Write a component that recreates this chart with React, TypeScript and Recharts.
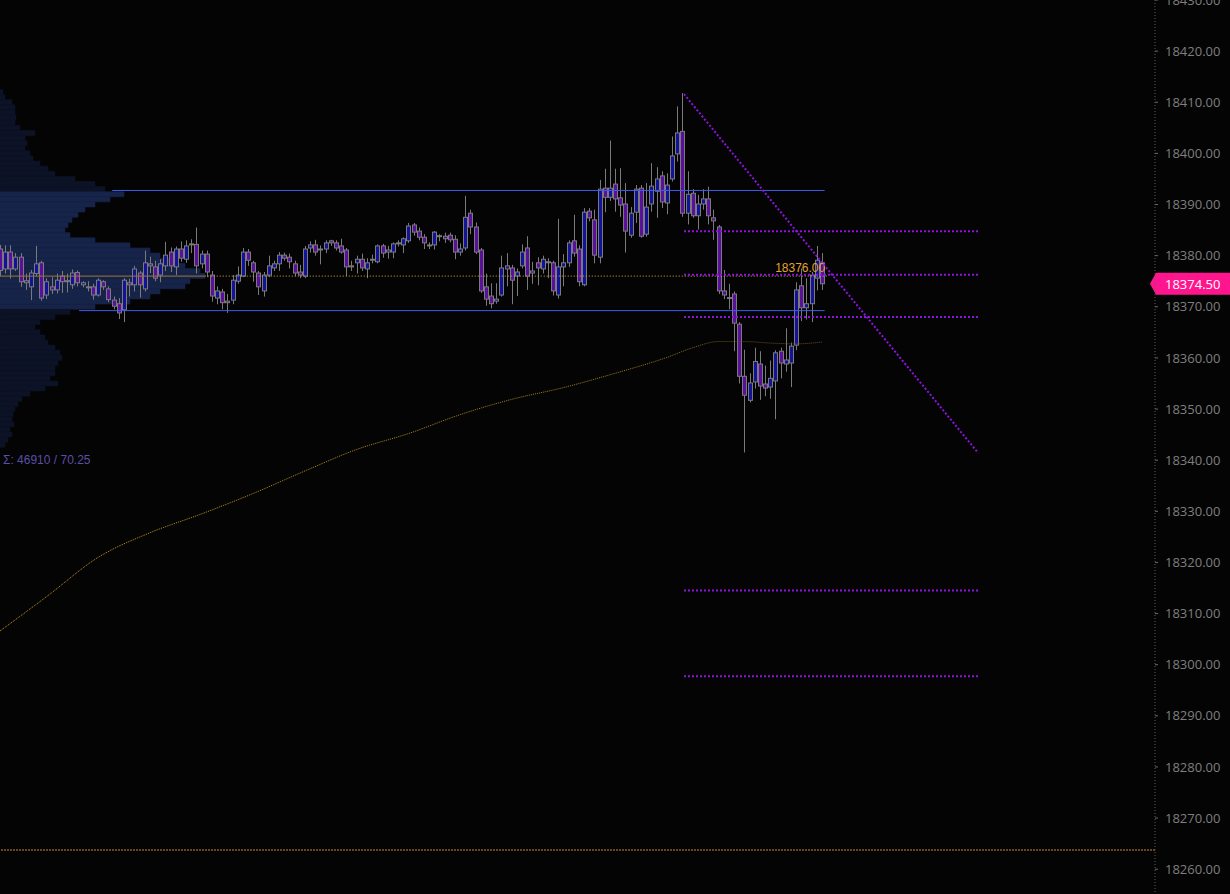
import React from "react";
import {
  ComposedChart,
  BarChart,
  Bar,
  Line,
  XAxis,
  YAxis,
  ReferenceLine,
  Cell,
} from "recharts";

// ---- data ----

// [open, high, low, close] per candle, oldest first
const ohlc: [number, number, number, number][] = [
  [18381.3, 18382.1, 18376.0, 18377.1],
  [18377.4, 18382.0, 18376.5, 18380.7],
  [18380.7, 18382.0, 18375.5, 18377.4],
  [18377.4, 18380.5, 18377.0, 18379.7],
  [18379.7, 18380.5, 18373.9, 18374.9],
  [18375.1, 18376.5, 18373.3, 18374.7],
  [18373.9, 18377.2, 18371.3, 18376.6],
  [18376.5, 18381.9, 18376.0, 18378.4],
  [18378.6, 18379.0, 18371.2, 18371.7],
  [18372.3, 18375.6, 18371.5, 18374.9],
  [18373.9, 18375.8, 18372.5, 18373.3],
  [18373.3, 18376.5, 18372.6, 18375.2],
  [18376.0, 18377.0, 18372.7, 18374.9],
  [18375.1, 18376.5, 18372.8, 18375.0],
  [18374.3, 18377.3, 18373.5, 18376.6],
  [18376.7, 18377.1, 18374.0, 18374.7],
  [18374.3, 18375.0, 18373.8, 18374.7],
  [18373.9, 18375.0, 18373.0, 18373.8],
  [18373.9, 18374.5, 18371.4, 18372.3],
  [18372.3, 18375.6, 18372.0, 18375.2],
  [18374.9, 18375.2, 18373.3, 18373.9],
  [18373.5, 18374.0, 18370.9, 18371.4],
  [18371.3, 18372.0, 18369.5, 18370.1],
  [18370.6, 18371.7, 18367.6, 18368.8],
  [18369.4, 18375.6, 18367.0, 18375.2],
  [18374.7, 18375.5, 18372.0, 18374.3],
  [18374.3, 18378.0, 18373.0, 18377.4],
  [18376.6, 18377.0, 18371.8, 18374.3],
  [18373.5, 18381.0, 18373.0, 18378.6],
  [18378.4, 18379.8, 18376.6, 18378.0],
  [18377.8, 18379.0, 18375.0, 18375.6],
  [18376.2, 18379.3, 18374.8, 18378.4],
  [18378.0, 18382.7, 18377.0, 18380.1],
  [18380.7, 18381.6, 18376.8, 18378.0],
  [18377.8, 18381.8, 18376.2, 18381.3],
  [18381.3, 18382.8, 18378.8, 18379.5],
  [18379.3, 18383.0, 18378.6, 18381.9],
  [18382.3, 18383.2, 18380.5, 18382.2],
  [18382.2, 18385.5, 18376.5, 18378.0],
  [18378.4, 18381.0, 18377.5, 18380.3],
  [18380.3, 18381.0, 18375.8, 18376.8],
  [18376.2, 18377.0, 18371.0, 18372.1],
  [18371.7, 18374.0, 18370.5, 18373.1],
  [18372.9, 18373.5, 18369.5, 18370.8],
  [18370.8, 18372.5, 18368.8, 18371.1],
  [18371.3, 18376.2, 18370.5, 18375.2],
  [18375.0, 18377.9, 18374.5, 18376.2],
  [18376.0, 18381.5, 18375.8, 18380.7],
  [18380.7, 18381.3, 18378.0, 18379.1],
  [18378.6, 18379.0, 18374.9, 18376.8],
  [18376.6, 18377.0, 18372.3, 18373.9],
  [18373.1, 18376.8, 18372.0, 18376.2],
  [18376.2, 18380.0, 18375.8, 18378.0],
  [18377.6, 18379.0, 18377.0, 18378.4],
  [18378.4, 18380.7, 18377.0, 18380.1],
  [18380.1, 18380.6, 18379.0, 18379.5],
  [18379.7, 18380.4, 18377.5, 18378.8],
  [18378.4, 18379.0, 18376.0, 18376.6],
  [18376.8, 18378.2, 18375.6, 18376.2],
  [18376.0, 18381.9, 18375.6, 18381.3],
  [18381.5, 18382.8, 18380.6, 18382.1],
  [18382.1, 18383.1, 18380.0, 18380.7],
  [18381.3, 18382.0, 18378.3, 18381.2],
  [18381.3, 18383.0, 18380.5, 18382.5],
  [18382.9, 18383.1, 18381.9, 18382.5],
  [18382.5, 18383.0, 18381.0, 18381.5],
  [18381.9, 18383.3, 18380.4, 18380.7],
  [18381.1, 18381.5, 18376.0, 18377.8],
  [18378.0, 18379.0, 18377.0, 18377.8],
  [18378.6, 18380.0, 18376.5, 18379.3],
  [18379.3, 18380.4, 18377.0, 18377.6],
  [18377.4, 18379.5, 18375.6, 18378.6],
  [18379.3, 18380.2, 18378.5, 18379.2],
  [18378.8, 18382.2, 18378.5, 18381.9],
  [18381.9, 18382.3, 18379.6, 18380.5],
  [18380.7, 18381.9, 18379.4, 18381.1],
  [18380.7, 18382.6, 18379.5, 18382.3],
  [18382.5, 18383.0, 18381.8, 18382.4],
  [18382.1, 18383.6, 18380.5, 18383.3],
  [18382.9, 18386.4, 18382.5, 18385.8],
  [18386.0, 18386.4, 18383.9, 18384.6],
  [18384.8, 18385.5, 18383.0, 18383.6],
  [18383.6, 18384.2, 18381.3, 18382.5],
  [18382.1, 18382.6, 18381.3, 18381.9],
  [18382.1, 18384.8, 18381.2, 18384.6],
  [18383.9, 18384.2, 18382.8, 18383.8],
  [18383.8, 18384.5, 18382.5, 18383.3],
  [18384.0, 18384.5, 18382.6, 18383.1],
  [18383.2, 18384.0, 18379.3, 18380.7],
  [18380.7, 18382.4, 18380.0, 18381.3],
  [18381.5, 18391.7, 18381.0, 18387.5],
  [18388.3, 18389.0, 18384.2, 18385.6],
  [18385.6, 18386.5, 18380.3, 18380.7],
  [18381.1, 18381.5, 18372.7, 18373.1],
  [18373.9, 18376.5, 18370.2, 18371.5],
  [18372.1, 18374.6, 18369.7, 18370.6],
  [18371.1, 18374.6, 18370.6, 18371.5],
  [18372.3, 18380.0, 18372.0, 18377.6],
  [18377.4, 18380.5, 18374.0, 18378.0],
  [18377.6, 18378.2, 18370.5, 18375.2],
  [18376.0, 18377.5, 18372.1, 18376.8],
  [18378.0, 18382.2, 18377.5, 18380.7],
  [18381.5, 18383.8, 18373.3, 18376.0],
  [18376.6, 18378.8, 18374.5, 18377.0],
  [18378.6, 18379.7, 18374.2, 18377.6],
  [18377.4, 18380.0, 18376.5, 18379.3],
  [18378.8, 18379.5, 18375.6, 18378.7],
  [18378.6, 18379.0, 18372.2, 18373.1],
  [18372.3, 18387.2, 18371.6, 18377.8],
  [18377.8, 18380.3, 18374.0, 18378.6],
  [18378.6, 18383.0, 18377.8, 18382.5],
  [18382.9, 18388.0, 18379.8, 18380.5],
  [18381.3, 18382.0, 18374.0, 18374.9],
  [18374.3, 18389.3, 18374.0, 18388.5],
  [18388.7, 18389.3, 18386.7, 18387.4],
  [18387.0, 18389.0, 18378.5, 18380.1],
  [18379.7, 18394.8, 18378.5, 18393.0],
  [18393.2, 18397.0, 18388.5, 18391.4],
  [18391.4, 18402.5, 18390.7, 18393.2],
  [18394.0, 18397.0, 18388.6, 18391.1],
  [18391.3, 18397.1, 18387.6, 18389.9],
  [18390.1, 18394.2, 18380.6, 18384.8],
  [18384.0, 18389.5, 18383.5, 18388.3],
  [18388.5, 18393.8, 18386.4, 18393.0],
  [18393.2, 18393.8, 18383.5, 18383.8],
  [18384.2, 18394.2, 18383.7, 18389.5],
  [18390.1, 18398.1, 18388.6, 18393.6],
  [18392.6, 18397.3, 18387.4, 18395.0],
  [18395.6, 18396.5, 18389.3, 18390.5],
  [18390.3, 18396.1, 18388.1, 18393.8],
  [18395.0, 18403.3, 18394.5, 18399.5],
  [18399.9, 18409.2, 18398.4, 18404.0],
  [18404.3, 18411.8, 18387.6, 18388.3],
  [18388.3, 18396.5, 18386.1, 18392.0],
  [18392.2, 18393.0, 18387.4, 18387.8],
  [18387.8, 18391.9, 18385.1, 18390.1],
  [18390.1, 18393.0, 18389.0, 18391.1],
  [18391.1, 18393.5, 18386.1, 18387.8],
  [18387.4, 18389.0, 18383.1, 18386.8],
  [18385.6, 18386.0, 18372.5, 18373.1],
  [18373.1, 18377.2, 18371.5, 18372.3],
  [18371.8, 18374.5, 18369.5, 18371.7],
  [18372.5, 18373.0, 18361.3, 18366.8],
  [18366.6, 18367.0, 18355.0, 18356.4],
  [18356.4, 18361.6, 18341.5, 18352.7],
  [18351.7, 18357.0, 18351.3, 18355.1],
  [18355.3, 18362.0, 18354.0, 18359.3],
  [18358.8, 18361.3, 18351.8, 18354.5],
  [18354.9, 18358.5, 18352.5, 18354.1],
  [18354.3, 18359.5, 18352.0, 18356.0],
  [18355.5, 18361.5, 18348.0, 18361.0],
  [18361.3, 18362.0, 18356.0, 18359.0],
  [18358.8, 18365.8, 18357.3, 18359.6],
  [18359.0, 18363.0, 18354.3, 18362.3],
  [18362.5, 18374.8, 18361.5, 18373.3],
  [18374.1, 18377.5, 18367.2, 18369.8],
  [18369.8, 18375.6, 18367.5, 18370.6],
  [18370.6, 18376.8, 18367.0, 18376.2],
  [18375.6, 18381.9, 18373.2, 18379.1],
  [18378.6, 18380.5, 18373.3, 18374.5],
];

// long moving average, sampled at some candles: [candle index, value]
const maPoints: [number, number][] = [
  [1, 18306.6], [10, 18313.3], [20, 18321.0], [30, 18325.8], [40, 18329.5],
  [50, 18333.5], [60, 18337.9], [70, 18342.1], [80, 18345.2], [90, 18348.9],
  [100, 18351.9], [110, 18354.2], [120, 18357.0], [130, 18360.1], [135, 18362.0],
  [140, 18363.2], [145, 18363.2], [150, 18362.9], [155, 18362.75], [160, 18363.1],
];

// volume profile rows: [price, volume]
const profileRows: [number, number][] = [
  [18412, 3], [18411, 5], [18410, 12], [18409, 15], [18408, 15], [18407, 16],
  [18406, 15], [18405, 20], [18404, 35], [18403, 25], [18402, 27], [18401, 25],
  [18400, 30], [18399, 33], [18398, 40], [18397, 48], [18396, 55], [18395, 75],
  [18394, 95], [18393, 105], [18392, 124], [18391, 110], [18390, 95], [18389, 85],
  [18388, 78], [18387, 72], [18386, 68], [18385, 65], [18384, 70], [18383, 95],
  [18382, 130], [18381, 150], [18380, 160], [18379, 170], [18378, 185], [18377, 200],
  [18376, 205], [18375, 190], [18374, 185], [18373, 160], [18372, 150], [18371, 130],
  [18370, 95], [18369, 70], [18368, 55], [18367, 40], [18366, 35], [18365, 40],
  [18364, 45], [18363, 48], [18362, 55], [18361, 60], [18360, 62], [18359, 58],
  [18358, 55], [18357, 55], [18356, 50], [18355, 58], [18354, 45], [18353, 30],
  [18352, 22], [18351, 18], [18350, 15], [18349, 13], [18348, 12], [18347, 14],
  [18346, 10], [18345, 12], [18344, 8], [18343, 5],
];

const priceTicks = [
  18260, 18270, 18280, 18290, 18300, 18310, 18320, 18330, 18340,
  18350, 18360, 18370, 18380, 18390, 18400, 18410, 18420, 18430,
];

const VAH = 18392.75;
const VAL = 18369.25;
const POC = 18376;
const LAST = 18374.5;
const LOW_LINE = 18263.75;
const fibLevels = [18384.75, 18376.25, 18368.0, 18314.5, 18297.75];
const trendStart = { i: 133.3, p: 18411.6 };
const trendEnd = { i: 190.2, p: 18341.4 };
const volSummary = "Σ: 46910 / 70.25";

// ---- layout ----
const W = 1230;
const H = 894;
const AXIS_W = 75;
const PRICE_DOMAIN: [number, number] = [18255.15, 18430];
const INDEX_DOMAIN: [number, number] = [1, 224.4];

const BG = "#040404";
const BULL = "#13139a";
const BEAR = "#5a109c";
const EDGE = "#7a7a7a";
const PURPLE = "#8c14e0";
const VA_FILL = "#172449";
const OUT_FILL = "#0d1326";

const maByIndex = new Map(maPoints);
const rows = ohlc.map(([o, h, l, c], k) => ({
  i: k + 1,
  o,
  h,
  l,
  c,
  ma: maByIndex.get(k + 1),
}));
const profile = profileRows.map(([price, vol]) => ({ price, vol }));

function Candle(props: any) {
  const { x, y, width, height, payload } = props;
  if (x == null || !payload) return null;
  const { o, h, l, c } = payload;
  const top = Math.min(y, y + height);
  const span = Math.abs(height);
  const k = h === l ? 0 : span / (h - l);
  const py = (p: number) => top + (h - p) * k;
  const cx = Math.round(x + width / 2) + 0.5;
  const bTop = py(Math.max(o, c));
  const bh = Math.max(1, py(Math.min(o, c)) - bTop);
  return (
    <g>
      <line x1={cx} x2={cx} y1={top} y2={top + span} stroke={EDGE} />
      <rect
        x={cx - 2}
        y={bTop}
        width={4}
        height={bh}
        fill={c >= o ? BULL : BEAR}
        stroke={EDGE}
        strokeWidth={1}
      />
    </g>
  );
}

function PocLabel(props: any) {
  const vb = props.viewBox || {};
  return (
    <text
      x={vb.x + vb.width - 2}
      y={vb.y - 4}
      textAnchor="end"
      fill="#e0a42c"
      fontSize={12}
      fontFamily="Liberation Sans, Arial, sans-serif"
    >
      {POC.toFixed(2)}
    </text>
  );
}

function PriceTag(props: any) {
  const vb = props.viewBox || {};
  const right = vb.x + vb.width;
  const yy = vb.y;
  return (
    <g>
      <polygon
        points={`${right - 5},${yy} ${right + 1},${yy - 11} ${right + AXIS_W},${yy - 11} ${right + AXIS_W},${yy + 11} ${right + 1},${yy + 11}`}
        fill="#ff168e"
      />
      <text
        x={right + 10}
        y={yy + 5}
        fill="#ffffff"
        fontSize={13}
        fontFamily="Open Sans, sans-serif"
      >
        {LAST.toFixed(2)}
      </text>
    </g>
  );
}

const dotted = { stroke: PURPLE, strokeWidth: 2, strokeDasharray: "2 2" };

export default function App() {
  return (
    <div
      style={{
        position: "fixed",
        left: 0,
        top: 0,
        width: W,
        height: H,
        background: BG,
        overflow: "hidden",
      }}
    >
      <div style={{ position: "absolute", left: 0, top: 0 }}>
        <BarChart
          width={W}
          height={H}
          data={profile}
          layout="vertical"
          margin={{ top: 0, right: AXIS_W, bottom: 0, left: 0 }}
          barCategoryGap={0}
        >
          <XAxis type="number" domain={[0, W - AXIS_W]} hide allowDataOverflow />
          <YAxis
            type="number"
            dataKey="price"
            domain={PRICE_DOMAIN}
            reversed
            hide
            allowDataOverflow
          />
          <Bar dataKey="vol" isAnimationActive={false}>
            {profile.map((r, k) => {
              const fill = r.price <= VAH && r.price >= VAL ? VA_FILL : OUT_FILL;
              return <Cell key={k} fill={fill} stroke={fill} strokeWidth={0.6} />;
            })}
          </Bar>
        </BarChart>
      </div>

      <div style={{ position: "absolute", left: 0, top: 0 }}>
        <ComposedChart
          width={W}
          height={H}
          data={rows}
          margin={{ top: 0, right: 0, bottom: 0, left: 0 }}
        >
          <defs>
            <linearGradient id="maGrad" x1="0" y1="0" x2="1" y2="0">
              <stop offset="0%" stopColor="#c8981e" />
              <stop offset="80%" stopColor="#987620" />
              <stop offset="88%" stopColor="#634f22" />
              <stop offset="100%" stopColor="#634f22" />
            </linearGradient>
          </defs>
          <XAxis
            type="number"
            dataKey="i"
            domain={INDEX_DOMAIN}
            hide
            allowDataOverflow
          />
          <YAxis
            orientation="right"
            type="number"
            domain={PRICE_DOMAIN}
            allowDataOverflow
            ticks={priceTicks}
            interval={0}
            width={AXIS_W}
            tickFormatter={(v: number) => v.toFixed(2)}
            tick={{ fill: "#7f7f7f", fontSize: 13, fontFamily: "Open Sans, sans-serif" }}
            axisLine={{ stroke: "#5a5a5a", strokeDasharray: "1 2" }}
            tickLine={{ stroke: "#6a6a6a" }}
            tickSize={3}
            tickMargin={7}
          />

          <ReferenceLine y={LOW_LINE} stroke="#d08a2c" strokeDasharray="2 1" />

          <Line
            type="monotone"
            dataKey="ma"
            connectNulls
            dot={false}
            activeDot={false}
            stroke="url(#maGrad)"
            strokeWidth={1}
            strokeDasharray="1 1"
            isAnimationActive={false}
          />

          <ReferenceLine
            segment={[{ x: 22.7, y: VAH }, { x: 160.5, y: VAH }]}
            stroke="#3f5bf0"
          />
          <ReferenceLine
            segment={[{ x: 16.3, y: VAL }, { x: 160.5, y: VAL }]}
            stroke="#3f5bf0"
          />
          <ReferenceLine
            segment={[{ x: 1, y: POC }, { x: 40.6, y: POC }]}
            stroke="#9a7838"
          />

          <Bar
            dataKey={(d: any) => [d.l, d.h]}
            shape={(p: any) => <Candle {...p} />}
            barSize={5}
            isAnimationActive={false}
          />

          <ReferenceLine
            segment={[{ x: 40.6, y: POC }, { x: 161, y: POC }]}
            stroke="#d8b440"
            strokeDasharray="1 2"
            label={<PocLabel />}
          />

          {fibLevels.map((lv) => (
            <ReferenceLine
              key={lv}
              segment={[{ x: trendStart.i, y: lv }, { x: trendEnd.i, y: lv }]}
              {...dotted}
            />
          ))}
          <ReferenceLine
            segment={[
              { x: trendStart.i, y: trendStart.p },
              { x: trendEnd.i, y: trendEnd.p },
            ]}
            {...dotted}
          />

          <ReferenceLine y={LAST} stroke="none" label={<PriceTag />} />
        </ComposedChart>
      </div>

      <div
        style={{
          position: "absolute",
          left: 3,
          top: 453,
          color: "#5a4fa6",
          fontSize: 12,
          fontFamily: "Liberation Sans, Arial, sans-serif",
          whiteSpace: "nowrap",
        }}
      >
        {volSummary}
      </div>
    </div>
  );
}
